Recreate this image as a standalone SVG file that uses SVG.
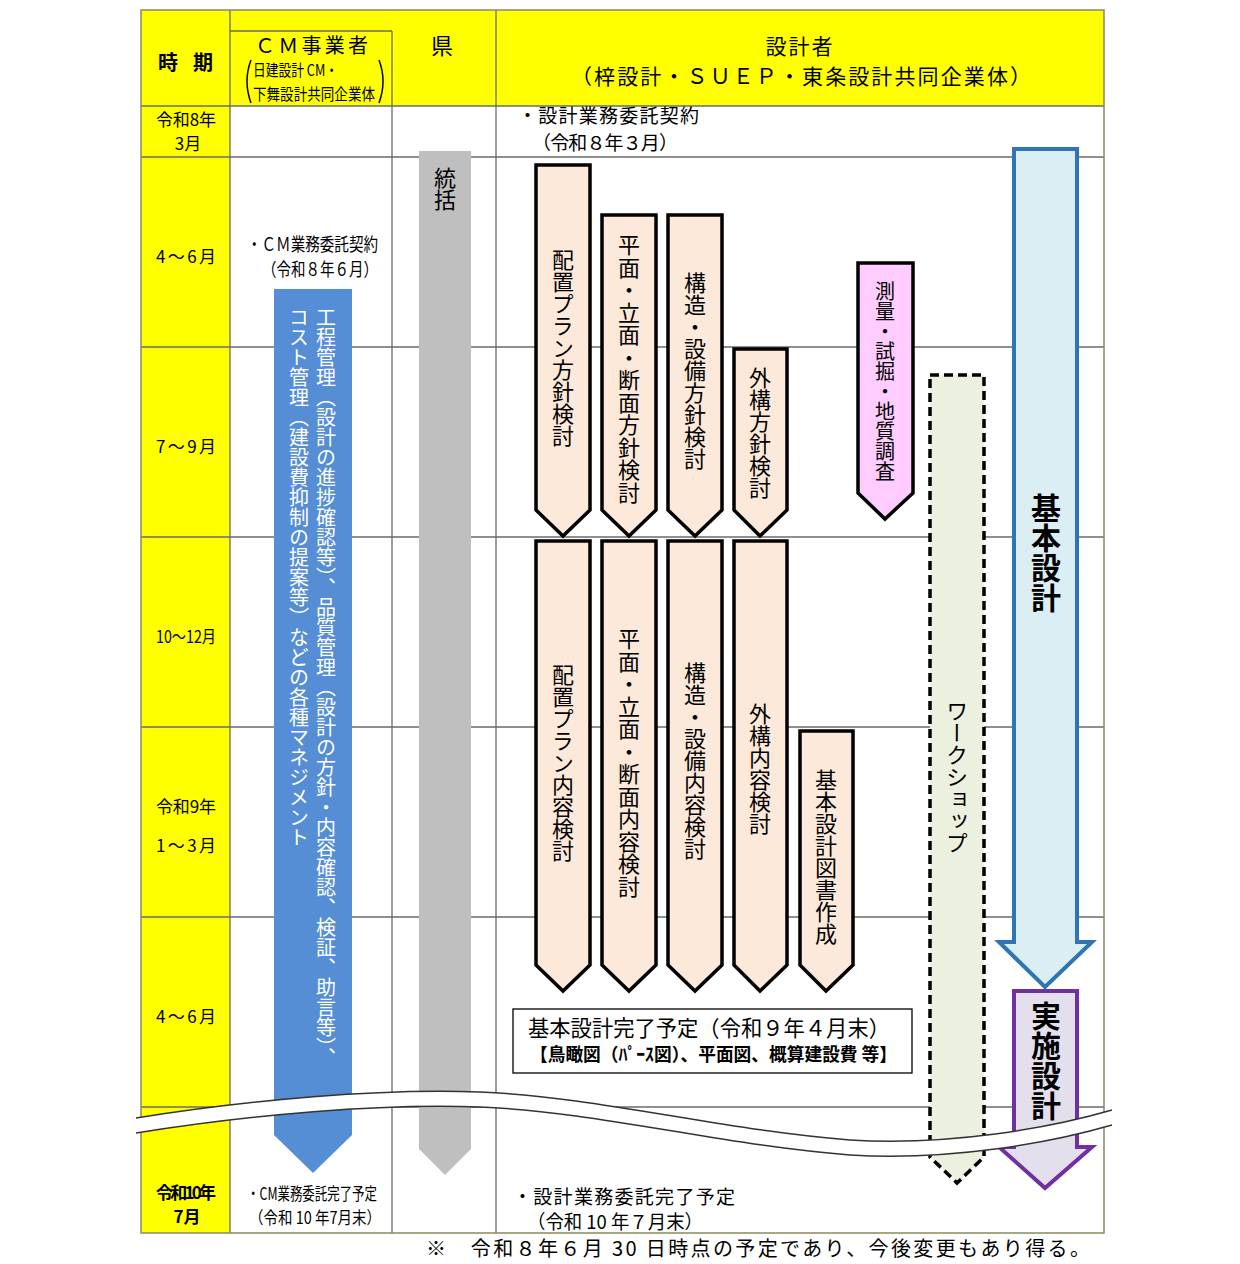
<svg xmlns="http://www.w3.org/2000/svg" width="1240" height="1264" viewBox="0 0 1240 1264">
<style>
text{font-family:'Noto Sans CJK JP','Noto Sans',sans-serif;fill:#000}
.ln{stroke:#6b6b6b;stroke-width:1.3;fill:none}
.v{writing-mode:vertical-rl}
.pc{fill:#fde9d9;stroke:#000;stroke-width:3.5;stroke-linejoin:miter}
.lbl{font-size:22px}
.per{font-size:17px;text-anchor:middle}
</style>
<rect x="0" y="0" width="1240" height="1264" fill="#fff"/>
<g id="table">
<rect x="141" y="10" width="963" height="96" fill="#ffff00"/>
<rect x="141" y="10" width="89" height="1223" fill="#ffff00"/>
<path class="ln" d="M141,106H1104M141,157H1104M141,347H1104M141,537H1104M141,727H1104M141,917H1104M141,1107H1104M230,31H392M230,10V1233M392,31V1233M496,10V1233"/>
<rect x="141" y="10" width="963" height="1223" fill="none" stroke="#8a8a60" stroke-width="1.5"/>
</g>
<g id="header">
<text x="158" y="70" font-size="20" font-weight="bold" textLength="55" lengthAdjust="spacing">時　期</text>
<text x="255" y="53" font-size="20" textLength="113" lengthAdjust="spacing">ＣＭ事業者</text>
<path d="M251,60Q243,81 251,103M379,60Q387,81 379,103" fill="none" stroke="#000" stroke-width="1.5"/>
<text x="253" y="76" font-size="16" textLength="85" lengthAdjust="spacingAndGlyphs">日建設計 CM・</text>
<text x="253" y="100" font-size="16" textLength="122" lengthAdjust="spacingAndGlyphs">下舞設計共同企業体</text>
<text x="442" y="54" font-size="22" text-anchor="middle">県</text>
<text x="800" y="54" font-size="21" text-anchor="middle" letter-spacing="2">設計者</text>
<text x="571" y="84" font-size="21" textLength="460" lengthAdjust="spacing">（梓設計・ＳＵＥＰ・東条設計共同企業体）</text>
</g>
<g id="periods">
<text x="186" y="126" class="per" textLength="60" lengthAdjust="spacing">令和8年</text>
<text x="188" y="150" class="per">3月</text>
<text x="186" y="263" class="per" textLength="60" lengthAdjust="spacing">4～6月</text>
<text x="186" y="453" class="per" textLength="60" lengthAdjust="spacing">7～9月</text>
<text x="186" y="643" class="per" textLength="60" lengthAdjust="spacingAndGlyphs">10～12月</text>
<text x="186" y="813" class="per" textLength="60" lengthAdjust="spacing">令和9年</text>
<text x="186" y="852" class="per" textLength="60" lengthAdjust="spacing">1～3月</text>
<text x="186" y="1023" class="per" textLength="60" lengthAdjust="spacing">4～6月</text>
<text x="186" y="1199" class="per" font-weight="bold" textLength="60" lengthAdjust="spacing">令和10年</text>
<text x="187" y="1223" class="per" font-weight="bold">7月</text>
</g>
<g id="notes">
<text x="518" y="123" font-size="19" textLength="181" lengthAdjust="spacing">・設計業務委託契約</text>
<text x="532" y="150" font-size="19" textLength="146" lengthAdjust="spacing">（令和８年３月）</text>
<text x="247" y="251" font-size="18" textLength="131" lengthAdjust="spacingAndGlyphs">・ＣＭ業務委託契約</text>
<text x="262" y="276" font-size="18" textLength="116" lengthAdjust="spacingAndGlyphs">（令和８年６月）</text>
<text x="247" y="1200" font-size="17" textLength="130" lengthAdjust="spacingAndGlyphs">・CM業務委託完了予定</text>
<text x="249" y="1224" font-size="17" textLength="132" lengthAdjust="spacingAndGlyphs">（令和 10 年7月末）</text>
<text x="513" y="1204" font-size="19" textLength="222" lengthAdjust="spacing">・設計業務委託完了予定</text>
<text x="527" y="1229" font-size="19" textLength="176" lengthAdjust="spacingAndGlyphs">（令和 10 年７月末）</text>
<text x="426" y="1256" font-size="20" textLength="664" lengthAdjust="spacing">※　令和８年６月 30 日時点の予定であり、今後変更もあり得る。</text>
</g>
<g id="cm-arrow">
<path d="M274,289H352V1135L313,1173L274,1135Z" fill="#558ed5"/>
<text x="326" y="307" class="v" font-size="20" style="fill:#fff">工程管理（設計の進捗確認等）、品質管理（設計の方針・内容確認、検証、助言等）、</text>
<text x="299" y="307" class="v" font-size="20" style="fill:#fff">コスト管理（建設費抑制の提案等）などの各種マネジメント</text>
</g>
<g id="ken-arrow">
<path d="M419,151H471V1149L445,1175L419,1149Z" fill="#bfbfbf"/>
<text x="445" y="167" class="v lbl">統括</text>
</g>
<g id="a1"><path class="pc" d="M536,165H590V510L563,536L536,510Z"/><text x="563" y="249" class="v lbl">配置プラン方針検討</text></g>
<g id="a2"><path class="pc" d="M602,215H656V510L629,536L602,510Z"/><text x="629" y="234" class="v lbl" letter-spacing="0.5">平面・立面・断面方針検討</text></g>
<g id="a3"><path class="pc" d="M668,215H722V510L695,536L668,510Z"/><text x="695" y="272" class="v lbl">構造・設備方針検討</text></g>
<g id="a4"><path class="pc" d="M734,349H787V510L760,536L734,510Z"/><text x="760" y="367" class="v lbl">外構方針検討</text></g>
<g id="a5"><path d="M858,263H913V493L885,519L858,493Z" fill="#ffccff" stroke="#000" stroke-width="3.5"/><text x="885" y="281" class="v" font-size="20">測量・試掘・地質調査</text></g>
<g id="b1"><path class="pc" d="M536,541H590V965L563,991L536,965Z"/><text x="563" y="664" class="v lbl">配置プラン内容検討</text></g>
<g id="b2"><path class="pc" d="M602,541H656V965L629,991L602,965Z"/><text x="629" y="628" class="v lbl" letter-spacing="0.5">平面・立面・断面内容検討</text></g>
<g id="b3"><path class="pc" d="M668,541H722V965L695,991L668,965Z"/><text x="695" y="662" class="v lbl">構造・設備内容検討</text></g>
<g id="b4"><path class="pc" d="M734,541H787V965L760,991L734,965Z"/><text x="760" y="703" class="v lbl">外構内容検討</text></g>
<g id="b5"><path class="pc" d="M800,731H853V965L826,991L800,965Z"/><text x="826" y="769" class="v lbl">基本設計図書作成</text></g>
<g id="workshop"><path d="M930,375H984V1157L957,1183L930,1157Z" fill="#ebf1de" stroke="#000" stroke-width="3.5" stroke-dasharray="9 5"/><text x="957" y="700" class="v lbl">ワークショップ</text></g>
<g id="kihon"><path d="M1014,149H1077V942H1092L1045,987L999,942H1014Z" fill="#daeef3" stroke="#2e75b6" stroke-width="4"/><text x="1046" y="493" class="v" font-size="30" font-weight="bold">基本設計</text></g>
<g id="jisshi"><path d="M1014,991H1077V1147H1092L1045,1188L999,1147H1014Z" fill="#e4dfec" stroke="#7030a0" stroke-width="4"/><text x="1046" y="1001" class="v" font-size="30" font-weight="bold">実施設計</text></g>
<g id="complete">
<rect x="513" y="1009" width="399" height="64" fill="#fff" stroke="#000" stroke-width="1.3"/>
<text x="528" y="1036" font-size="22" textLength="362" lengthAdjust="spacingAndGlyphs">基本設計完了予定（令和９年４月末）</text>
<text x="530" y="1061" font-size="18" font-weight="bold" textLength="367" lengthAdjust="spacingAndGlyphs">【鳥瞰図（ﾊﾟｰｽ図）、平面図、概算建設費 等】</text>
</g>
<g id="wave">
<path d="M136,1118C250,1100 380,1088 480,1092C600,1097 720,1130 850,1140C950,1146 1050,1128 1112,1110L1112,1125C1050,1143 950,1161 850,1155C720,1145 600,1112 480,1107C380,1103 250,1115 136,1133Z" fill="#fff"/>
<path d="M136,1118C250,1100 380,1088 480,1092C600,1097 720,1130 850,1140C950,1146 1050,1128 1112,1110M136,1133C250,1115 380,1103 480,1107C600,1112 720,1145 850,1155C950,1161 1050,1143 1112,1125" fill="none" stroke="#333" stroke-width="1.5"/>
</g>
</svg>
